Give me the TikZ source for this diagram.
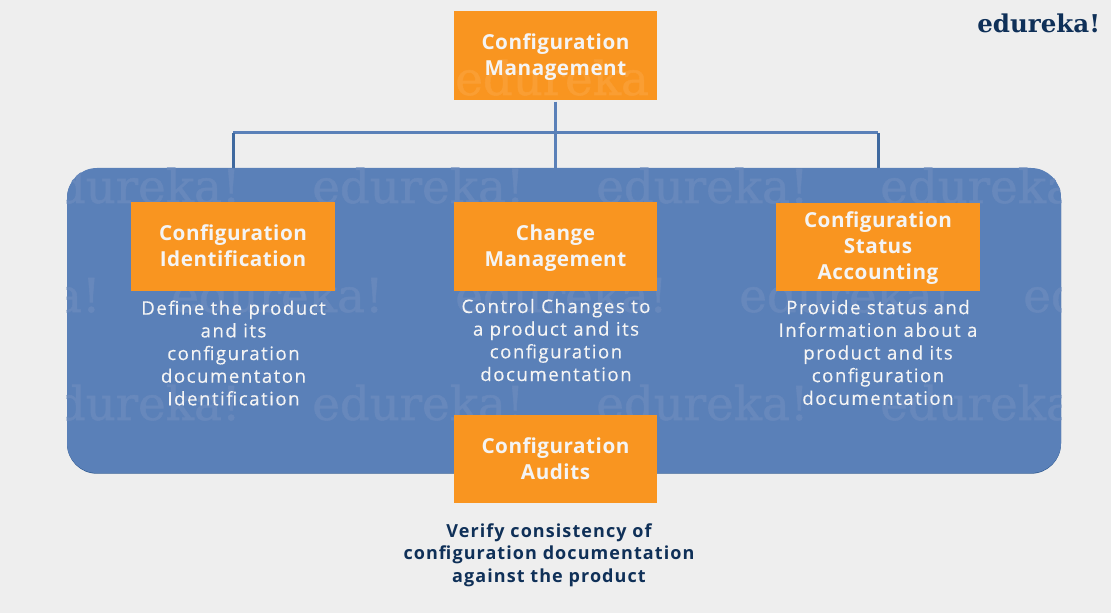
\documentclass[tikz,border=0pt]{standalone}
\usepackage{fontspec}
\newfontfamily\boxfont[LetterSpace=2.5]{Open Sans}
\newfontfamily\bodyfont[LetterSpace=8,FakeBold=0.25]{Open Sans}
\newfontfamily\darkfont[LetterSpace=6]{Open Sans}
\newfontfamily\markfont[FakeBold=1.2]{DejaVu Serif}
\newfontfamily\logofont{DejaVu Serif}
\definecolor{pagebg}{HTML}{EEEEEE}
\definecolor{panelblue}{HTML}{5A80B8}
\definecolor{paneledge}{HTML}{2F5A90}
\definecolor{panelmark}{HTML}{6788BC}
\definecolor{linedark}{HTML}{3F699F}
\definecolor{boxorange}{HTML}{F99520}
\definecolor{boxmark}{HTML}{FA9E33}
\definecolor{navy}{HTML}{0F3058}
\definecolor{softwhite}{HTML}{F4F4F4}
\pgfdeclarelayer{pagelayer}
\pgfdeclarelayer{panellayer}
\pgfdeclarelayer{linelayer}
\pgfsetlayers{pagelayer,linelayer,panellayer,main}
\tikzset{
  x=0.75pt,y=-0.75pt,
  boxshape/.style={minimum width=152.5pt,minimum height=66.5pt,inner sep=0pt,align=center,text=softwhite,font=\boxfont\bfseries\fontsize{15.5}{19.5}\selectfont},
  orangebox/.style={boxshape,fill=boxorange},
  bodytext/.style={align=center,inner sep=0pt,text=softwhite,font=\bodyfont\fontsize{14}{17}\selectfont},
  darktext/.style={align=center,inner sep=0pt,text=navy,font=\darkfont\bfseries\fontsize{13.5}{17}\selectfont},
  wire/.style={line width=2.25pt,draw=panelblue},
  wirev/.style={line width=2.25pt,draw=linedark},
  wmark/.style={anchor=base west,inner sep=0pt,text=panelmark,font=\markfont\fontsize{35}{35}\selectfont}
}
\begin{document}
\begin{tikzpicture}
\useasboundingbox (0,0) rectangle (1111,613);
\begin{pgfonlayer}{pagelayer}
\fill[pagebg] (0,0) rectangle (1111,613);
\end{pgfonlayer}
% boxes
\node[boxshape] (top) at (555.5,57) {Configuration\\Management};
\node[orangebox] (ident) at (233,246.5) {};
\node[boxshape] (identlabel) at (233,245.5) {Configuration\\Identification};
\node[orangebox] (change) at (555.5,246.5) {};
\node[boxshape] (changelabel) at (555.5,248) {Change\\Management};
\node[orangebox] (status) at (878,247) {};
\node[boxshape] (statuslabel) at (878,248.5) {Configuration\\Status\\Accounting};
\node[orangebox] (audits) at (555.5,459) {Configuration\\Audits};
% body texts
\node[bodytext] (identtext) at (233.5,353) {Define the product\\and its\\configuration\\documentaton\\Identification};
\node[bodytext] (changetext) at (556,340) {Control Changes to\\a product and its\\configuration\\documentation};
\node[bodytext] (statustext) at (878,352.5) {Provide status and\\Information about a\\product and its\\configuration\\documentation};
\node[darktext] (audittext) at (549,555) {Verify consistency of\\configuration documentation\\against the product};
\node[anchor=base west,inner sep=0pt,text=navy,font=\logofont\bfseries\fontsize{18.4}{18.4}\selectfont] (logo) at (977,33) {edureka!};
% panel and watermarks
\begin{pgfonlayer}{panellayer}
\fill[boxorange] (454,11) rectangle (657,100);
\begin{scope}
\clip (454,11) rectangle (657,100);
\node[wmark,text=boxmark] (topmark) at (455,95) {edureka};
\end{scope}
\node[fill=paneledge,rounded corners=22.5pt,minimum width=745.5pt,minimum height=228.75pt,inner sep=0pt] (paneledgeshape) at (564,321.2) {};
\node[fill=panelblue,rounded corners=22.5pt,minimum width=745.5pt,minimum height=228.75pt,inner sep=0pt] (panel) at (564,320.5) {};
\begin{scope}
\clip[rounded corners=22.5pt] (panel.north west) rectangle (panel.south east);
\node[wmark] (m11) at (28,203) {edureka!};
\node[wmark] (m12) at (312,203) {edureka!};
\node[wmark] (m13) at (596,203) {edureka!};
\node[wmark] (m14) at (880,203) {edureka!};
\node[wmark,anchor=base east] (m21) at (101,312) {ka!};
\node[wmark] (m22) at (171,312) {edureka!};
\node[wmark] (m23) at (455,312) {edureka!};
\node[wmark] (m24) at (739,312) {edureka!};
\node[wmark] (m25) at (1023,312) {ed};
\node[wmark] (m31) at (28,420) {edureka!};
\node[wmark] (m32) at (312,420) {edureka!};
\node[wmark] (m33) at (596,420) {edureka!};
\node[wmark] (m34) at (880,420) {edureka!};
\end{scope}
\end{pgfonlayer}
% connectors
\begin{pgfonlayer}{linelayer}
\coordinate (branch) at (555.5,133);
\draw[wire] (top.south) -- (change.north);
\draw[wire] (ident.north |- branch) -- (status.north |- branch);
\draw[wirev] (branch -| ident.north) -- (ident.north);
\draw[wirev] (branch -| status.north) -- (status.north);
\end{pgfonlayer}
\end{tikzpicture}
\end{document}
